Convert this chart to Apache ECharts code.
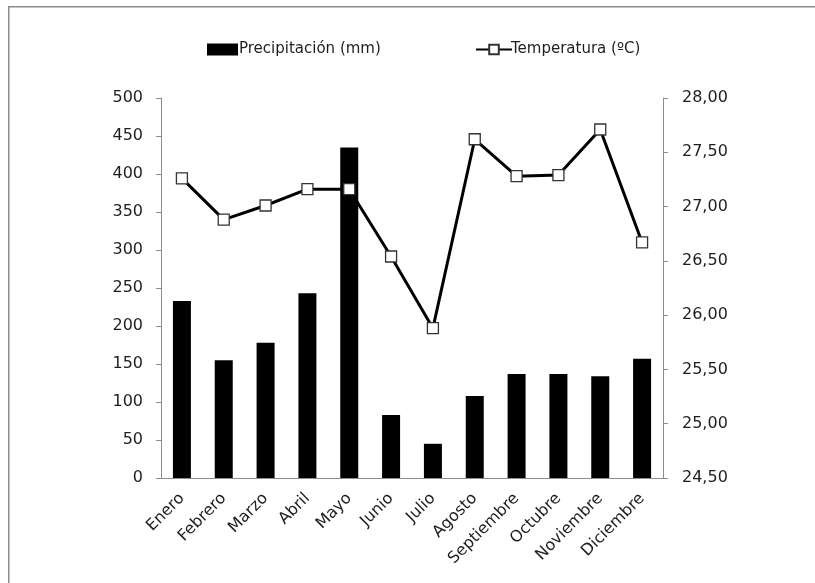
<!DOCTYPE html>
<html>
<head>
<meta charset="utf-8">
<script src="https://cdn.jsdelivr.net/npm/echarts@6/dist/echarts.min.js"></script>
<style>
html,body{margin:0;padding:0;background:#fff;}
#c{width:815px;height:583px;}
</style>
</head>
<body>
<div id="c"></div>
<script>
const categories = ['Enero','Febrero','Marzo','Abril','Mayo','Junio','Julio','Agosto','Septiembre','Octubre','Noviembre','Diciembre'];
const precipitacion = [233, 155, 178, 243, 435, 83, 45, 108, 137, 137, 134, 157];
const temperatura = [27.26, 26.88, 27.01, 27.16, 27.16, 26.54, 25.88, 27.62, 27.28, 27.29, 27.71, 26.67];
const leftTicks = {min: 0, max: 500, interval: 50};
const rightTicks = {min: 24.5, max: 28, interval: 0.5};

const FONT = 'DejaVu Sans';
const TXT = '#1e1e1e';
const chart = echarts.init(document.getElementById('c'), null, {renderer: 'canvas'});
chart.setOption({
  animation: false,
  backgroundColor: '#fff',
  textStyle: {fontFamily: FONT},
  graphic: [{
    type: 'rect', left: 8, top: 6, z: -10,
    shape: {width: 900, height: 700},
    style: {fill: '#fff', stroke: '#8c8c8c', lineWidth: 1.5}
  }],
  legend: [{
    data: [{name: 'Precipitación (mm)', icon: 'rect'}], left: 202, top: 37,
    itemWidth: 31, itemHeight: 12, itemGap: 2,
    textStyle: {fontFamily: FONT, fontSize: 15, color: TXT, padding: [0,0,0,-4]}
  }, {
    data: ['Temperatura (ºC)'], left: 470, top: 37,
    itemWidth: 36, itemHeight: 12,
    textStyle: {fontFamily: FONT, fontSize: 15, color: TXT, padding: [0,0,0,-6]}
  }],
  grid: {left: 161, right: 152, top: 98, bottom: 105},
  xAxis: {
    type: 'category', data: categories,
    axisLine: {lineStyle: {color: '#8c8c8c', width: 1}},
    axisTick: {alignWithLabel: false, length: 5, lineStyle: {color: '#8c8c8c'}},
    axisLabel: {rotate: 45, fontSize: 16, color: TXT, fontFamily: FONT, margin: 18, interval: 0}
  },
  yAxis: [{
    type: 'value', min: leftTicks.min, max: leftTicks.max, interval: leftTicks.interval,
    position: 'left',
    axisLine: {show: true, lineStyle: {color: '#8c8c8c'}},
    axisTick: {show: true, length: 5, lineStyle: {color: '#8c8c8c'}},
    splitLine: {show: false},
    axisLabel: {fontSize: 16, color: TXT, fontFamily: FONT, margin: 18}
  }, {
    type: 'value', min: rightTicks.min, max: rightTicks.max, interval: rightTicks.interval,
    position: 'right',
    axisLine: {show: true, lineStyle: {color: '#8c8c8c'}},
    axisTick: {show: true, length: 5, lineStyle: {color: '#8c8c8c'}},
    splitLine: {show: false},
    axisLabel: {fontSize: 16, color: TXT, fontFamily: FONT, margin: 19,
      formatter: v => v.toFixed(2).replace('.', ',')}
  }],
  series: [{
    name: 'Precipitación (mm)', type: 'bar', data: precipitacion,
    yAxisIndex: 0, barWidth: 18,
    itemStyle: {color: '#000'}
  }, {
    name: 'Temperatura (ºC)', type: 'line', data: temperatura,
    yAxisIndex: 1, symbol: 'rect', symbolSize: 11,
    lineStyle: {color: '#000', width: 3},
    itemStyle: {color: '#fff', borderColor: '#333', borderWidth: 1.3},
    z: 5
  }]
});
</script>
</body>
</html>
